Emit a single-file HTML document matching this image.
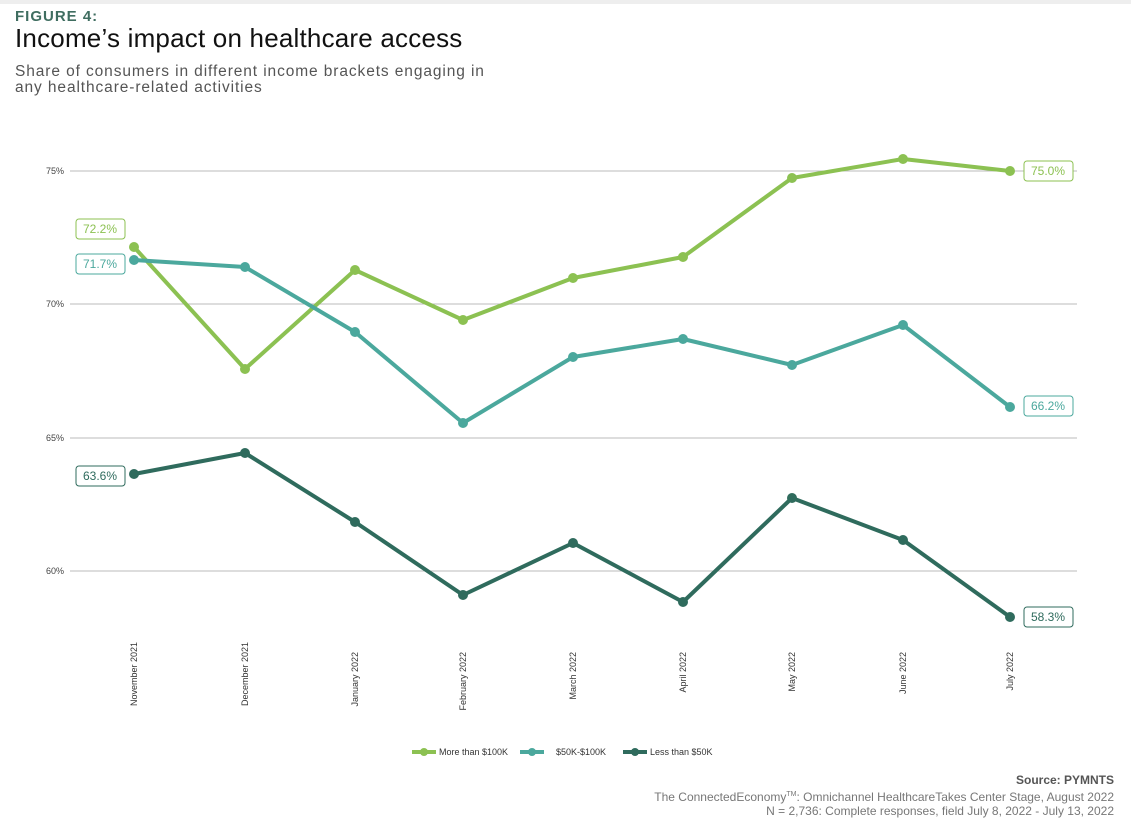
<!DOCTYPE html>
<html><head><meta charset="utf-8"><style>
body{margin:0;width:1131px;height:831px;background:#fff;font-family:"Liberation Sans",sans-serif;overflow:hidden;position:relative}
.top{position:absolute;left:0;top:0;width:1131px;height:4px;background:#eee}
.fig{position:absolute;left:15px;top:8px;font-size:15px;font-weight:bold;color:#3f6d60;letter-spacing:1px}
.title{position:absolute;left:15px;top:23px;font-size:26px;color:#111;letter-spacing:0.2px}
.sub{position:absolute;left:15px;top:64px;font-size:15.5px;color:#555;line-height:16px;letter-spacing:0.9px}
.src{position:absolute;right:17px;top:773px;text-align:right;font-size:12px;color:#777;line-height:14.5px}
.src b{color:#555}
</style></head><body>
<div class="top"></div>
<div class="fig">FIGURE 4:</div>
<div class="title">Income’s impact on healthcare access</div>
<div class="sub">Share of consumers in different income brackets engaging in<br>any healthcare-related activities</div>
<svg width="1131" height="831" style="position:absolute;left:0;top:0" font-family="Liberation Sans, sans-serif">
<g stroke="#bbb" stroke-width="1">
<line x1="70" y1="171" x2="1077" y2="171"/><line x1="70" y1="304" x2="1077" y2="304"/>
<line x1="70" y1="438" x2="1077" y2="438"/><line x1="70" y1="571" x2="1077" y2="571"/></g>
<g font-size="9" fill="#444" text-anchor="end">
<text x="64" y="174">75%</text><text x="64" y="307">70%</text><text x="64" y="441">65%</text><text x="64" y="574">60%</text></g>
<g fill="none" stroke-width="4" stroke-linejoin="round">
<polyline stroke="#8cc152" points="134,247 245,369 355,270 463,320 573,278 683,257 792,178 903,159 1010,171"/>
<polyline stroke="#4ba89d" points="134,260 245,267 355,332 463,423 573,357 683,339 792,365 903,325 1010,407"/>
<polyline stroke="#2f6b5d" points="134,474 245,453 355,522 463,595 573,543 683,602 792,498 903,540 1010,617"/>
</g>
<g fill="#8cc152"><circle cx="134" cy="247" r="5"/><circle cx="245" cy="369" r="5"/><circle cx="355" cy="270" r="5"/><circle cx="463" cy="320" r="5"/><circle cx="573" cy="278" r="5"/><circle cx="683" cy="257" r="5"/><circle cx="792" cy="178" r="5"/><circle cx="903" cy="159" r="5"/><circle cx="1010" cy="171" r="5"/></g>
<g fill="#4ba89d"><circle cx="134" cy="260" r="5"/><circle cx="245" cy="267" r="5"/><circle cx="355" cy="332" r="5"/><circle cx="463" cy="423" r="5"/><circle cx="573" cy="357" r="5"/><circle cx="683" cy="339" r="5"/><circle cx="792" cy="365" r="5"/><circle cx="903" cy="325" r="5"/><circle cx="1010" cy="407" r="5"/></g>
<g fill="#2f6b5d"><circle cx="134" cy="474" r="5"/><circle cx="245" cy="453" r="5"/><circle cx="355" cy="522" r="5"/><circle cx="463" cy="595" r="5"/><circle cx="573" cy="543" r="5"/><circle cx="683" cy="602" r="5"/><circle cx="792" cy="498" r="5"/><circle cx="903" cy="540" r="5"/><circle cx="1010" cy="617" r="5"/></g>
<g font-size="12" text-anchor="middle">
<rect x="76" y="219" width="49" height="20" rx="3" fill="#fff" stroke="#8cc152"/><text x="100" y="233" fill="#8cc152">72.2%</text>
<rect x="76" y="254" width="49" height="20" rx="3" fill="#fff" stroke="#4ba89d"/><text x="100" y="268" fill="#4ba89d">71.7%</text>
<rect x="76" y="466" width="49" height="20" rx="3" fill="#fff" stroke="#2f6b5d"/><text x="100" y="480" fill="#2f6b5d">63.6%</text>
<rect x="1024" y="161" width="49" height="20" rx="3" fill="#fff" stroke="#8cc152"/><text x="1048" y="175" fill="#8cc152">75.0%</text>
<rect x="1024" y="396" width="49" height="20" rx="3" fill="#fff" stroke="#4ba89d"/><text x="1048" y="410" fill="#4ba89d">66.2%</text>
<rect x="1024" y="607" width="49" height="20" rx="3" fill="#fff" stroke="#2f6b5d"/><text x="1048" y="621" fill="#2f6b5d">58.3%</text>
</g>
<g font-size="9" fill="#333" text-anchor="end">
<text transform="translate(137,642) rotate(-90)">November 2021</text>
<text transform="translate(248,642) rotate(-90)">December 2021</text>
<text transform="translate(358,652) rotate(-90)">January 2022</text>
<text transform="translate(466,652) rotate(-90)">February 2022</text>
<text transform="translate(576,652) rotate(-90)">March 2022</text>
<text transform="translate(686,652) rotate(-90)">April 2022</text>
<text transform="translate(795,652) rotate(-90)">May 2022</text>
<text transform="translate(906,652) rotate(-90)">June 2022</text>
<text transform="translate(1013,652) rotate(-90)">July 2022</text>
</g>
<g font-size="9" fill="#333">
<line x1="412" y1="752" x2="436" y2="752" stroke="#8cc152" stroke-width="4"/><circle cx="424" cy="752" r="4" fill="#8cc152"/><text x="439" y="755">More than $100K</text>
<line x1="520" y1="752" x2="544" y2="752" stroke="#4ba89d" stroke-width="4"/><circle cx="532" cy="752" r="4" fill="#4ba89d"/><text x="556" y="755">$50K-$100K</text>
<line x1="623" y1="752" x2="647" y2="752" stroke="#2f6b5d" stroke-width="4"/><circle cx="635" cy="752" r="4" fill="#2f6b5d"/><text x="650" y="755">Less than $50K</text>
</g>
</svg>
<div class="src"><b>Source: PYMNTS</b><br>The ConnectedEconomy<sup style="font-size:7px">TM</sup>: Omnichannel HealthcareTakes Center Stage, August 2022<br>N = 2,736: Complete responses, field July 8, 2022 - July 13, 2022</div>
</body></html>
